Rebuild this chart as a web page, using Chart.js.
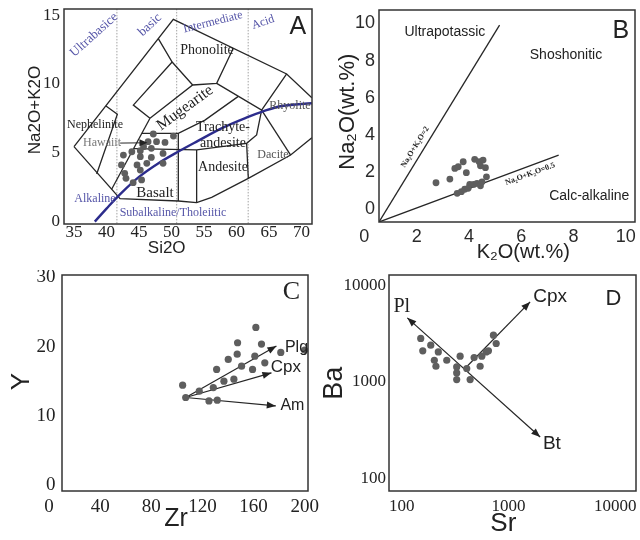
<!DOCTYPE html>
<html><head><meta charset="utf-8">
<script src="https://cdn.jsdelivr.net/npm/chart.js@4.4.1/dist/chart.umd.min.js"></script>
<style>
html,body{margin:0;padding:0;background:#fff;}
#wrap{position:relative;width:640px;height:540px;overflow:hidden;}
canvas{position:absolute;}
</style></head><body>
<div id="wrap">
<canvas id="cA" width="320" height="270" style="left:0;top:0"></canvas>
<canvas id="cB" width="320" height="270" style="left:320px;top:0"></canvas>
<canvas id="cC" width="320" height="270" style="left:0;top:270px"></canvas>
<canvas id="cD" width="320" height="270" style="left:320px;top:270px"></canvas>
</div>
<script>
// ---------------- Panel A : TAS ----------------
const aXTicks = [35,40,45,50,55,60,65,70];
const aYTicks = [0,5,10,15];
const aSiO2 = [47.2,50.3,47.7,49.0,46.4,45.7,43.9,45.2,46.9,48.7,42.6,46.9,45.2,42.3,44.7,46.2,48.7,42.8,45.2,43.0,44.1,45.4];
const aAlk  = [6.37,6.22,5.81,5.76,5.81,5.45,5.08,5.16,5.33,4.96,4.84,4.67,4.72,4.12,4.12,4.24,4.24,3.51,3.75,3.15,2.83,3.03];
const aFieldLines = [
  [[35.0,5.45],[50.28,14.70],[67.72,10.73],[71.6,9.0]],
  [[35.0,5.45],[42.08,1.67],[51.05,1.50],[53.87,1.38],[56.18,1.77],[61.82,3.15],[68.33,4.84],[71.6,6.1]],
  [[39.92,8.40],[41.67,7.80],[38.49,3.46]],
  [[47.97,13.3],[50.1,11.6],[53.26,9.93]],
  [[50.1,11.6],[44.13,8.47],[46.69,7.51]],
  [[46.69,7.51],[40.79,2.35]],
  [[46.69,7.51],[53.26,9.93],[56.95,10.05],[59.51,12.6]],
  [[56.95,10.05],[63.87,8.11],[67.72,10.73]],
  [[63.87,8.11],[68.33,4.84]],
  [[45.41,6.42],[51.05,6.42],[55.15,7.38],[60.28,9.1]],
  [[44.18,5.30],[53.87,5.21],[61.56,5.69],[63.10,6.30],[63.87,8.11]],
  [[51.05,6.42],[51.05,1.50]],
  [[53.87,5.21],[53.87,1.38]],
  [[61.56,5.69],[61.82,3.15]]
];
const aDivisions = [41.6, 50.8, 61.8];
const aCurveX = [38.2,40,42,45,48,51,54,58,62,64,67,71.6];
const aCurveY = [0,0.95,1.95,3.25,4.25,5.08,5.85,6.85,7.65,8.0,8.4,8.6];
const aHawArrow = [[42.1,5.71],[46.3,5.73]];

// ---------------- Panel B : K2O vs Na2O ----------------
const bTicks = [0,2,4,6,8,10];
const bK2O  = [2.74,3.27,3.46,3.59,3.78,3.90,4.22,4.39,4.44,4.54,4.63,4.67,3.55,3.71,3.84,4.03,4.18,4.31,4.44,4.50,3.97];
const bNa2O = [1.43,1.63,2.20,2.29,2.56,1.97,2.69,2.56,2.34,2.65,2.24,1.75,0.86,0.95,1.08,1.34,1.34,1.40,1.27,1.48,1.13];
const bRatioLines = [[[0.56,-0.68],[5.17,9.91]], [[0.56,-0.68],[7.43,2.92]]];

// ---------------- Panel C : Zr vs Y ----------------
const cXTicks = [0,40,80,120,160,200];
const cYTicks = [0,10,20,30];
const cZr = [104.5,106.9,117.5,128.5,125.1,131.6,131.1,136.8,144.6,140.2,147.2,147.5,150.6,161.8,166.2,161.0,159.2,168.8,181.3,200.0];
const cY  = [14.45,12.67,13.58,14.11,12.18,12.28,16.72,15.03,15.32,18.16,18.93,20.57,17.20,22.79,20.38,18.64,16.72,17.67,19.18,19.51];
const cOrigin = [106.9,12.67];
const cPlg = [177.9,20.09];
const cCpx = [174.0,16.23];
const cAm  = [177.4,11.46];

// ---------------- Panel D : Sr vs Ba ----------------
const dTicks = [100,1000,10000];
const dSr = [150.6,157.4,187,220,202,209,264,352,327,327,327,406,437,476,542,562,617,648,722,766];
const dBa = [2806,2089,2390,2037,1671,1449,1671,1840,1426,1236,1056,1373,1056,1782,1449,1840,2037,2089,3034,2489];
const dPl = [112.8,4581];
const dBt = [1977,269];
const dCpxFrom = [401,1416];
const dCpxTo = [1592,6700];

// ---------------- helpers ----------------
const SERIF = "'Liberation Serif','DejaVu Serif',serif";
const SANS = "'Liberation Sans','DejaVu Sans',sans-serif";
const PURPLE = '#5656a8';

const decor = {
  id: 'decor',
  afterDatasetsDraw(chart, args, opts) {
    const {ctx, chartArea: ca} = chart;
    const xs = chart.scales.x, ys = chart.scales.y;
    ctx.save();
    ctx.strokeStyle = '#333'; ctx.lineWidth = 1.5;
    ctx.strokeRect(ca.left, ca.top, ca.right - ca.left, ca.bottom - ca.top);
    (opts.arrows || []).forEach(a => {
      const heads = a.both ? [[a.from, a.to], [a.to, a.from]] : [[a.from, a.to]];
      heads.forEach(([p0, p1]) => {
        const x0 = xs.getPixelForValue(p0[0]), y0 = ys.getPixelForValue(p0[1]);
        const x1 = xs.getPixelForValue(p1[0]), y1 = ys.getPixelForValue(p1[1]);
        const ang = Math.atan2(y1 - y0, x1 - x0);
        const L = a.len || 9, W = a.w || 3.5;
        const c = Math.cos(ang), s = Math.sin(ang);
        ctx.beginPath();
        ctx.moveTo(x1, y1);
        ctx.lineTo(x1 - L * c + W * s, y1 - L * s - W * c);
        ctx.lineTo(x1 - L * c - W * s, y1 - L * s + W * c);
        ctx.closePath();
        ctx.fillStyle = '#222'; ctx.fill();
      });
    });
    (opts.texts || []).forEach(t => {
      const px = xs.getPixelForValue(t.x), py = ys.getPixelForValue(t.y);
      ctx.save();
      ctx.translate(px, py);
      ctx.rotate((t.rot || 0) * Math.PI / 180);
      ctx.font = t.font; ctx.fillStyle = t.color || '#222';
      ctx.textAlign = t.align || 'center'; ctx.textBaseline = 'middle';
      ctx.fillText(t.t, 0, 0);
      ctx.restore();
    });
    (opts.titles || []).forEach(t => {
      ctx.save();
      ctx.translate(t.px, t.py);
      ctx.rotate((t.rot || 0) * Math.PI / 180);
      ctx.font = t.font; ctx.fillStyle = t.color || '#222';
      ctx.textAlign = 'center'; ctx.textBaseline = 'middle';
      ctx.fillText(t.t, 0, 0);
      ctx.restore();
    });
    ctx.restore();
  }
};
Chart.register(decor);

function lineDs(pts, extra) {
  return Object.assign({
    type: 'scatter', showLine: true, data: pts.map(([x, y]) => ({x, y})),
    borderColor: '#262626', borderWidth: 1.3, pointRadius: 0, fill: false, tension: 0, order: 2
  }, extra || {});
}
function dotDs(xs, ys, r) {
  return {type: 'scatter', data: xs.map((x, i) => ({x, y: ys[i]})), pointRadius: r,
    pointBackgroundColor: '#5e5e5e', pointBorderWidth: 0, borderWidth: 0, showLine: false, order: 0};
}
function makeOptions(cfg) {
  const a = cfg.area;
  const zero = s => { s.paddingLeft = 0; s.paddingRight = 0; s.paddingTop = 0; s.paddingBottom = 0; };
  const fmt = v => String(v);
  const axis = (type, min, max, ticks, font, pad, color) => ({
    type, min, max,
    grid: {display: false, drawTicks: false},
    border: {display: false},
    ticks: {font, color: color || '#222', padding: pad, autoSkip: false, maxRotation: 0, callback: fmt},
    afterBuildTicks: s => { s.ticks = ticks.map(v => ({value: v})); }
  });
  const x = axis(cfg.xType || 'linear', cfg.xMin, cfg.xMax, cfg.xTicks, cfg.tickFont, cfg.xPad, cfg.tickColor);
  x.afterFit = s => { s.height = 270 - a.b; zero(s); };
  const y = axis(cfg.yType || 'linear', cfg.yMin, cfg.yMax, cfg.yTicks, cfg.tickFont, cfg.yPad, cfg.tickColor);
  y.afterFit = s => { s.width = a.l; zero(s); };
  return {
    responsive: false, animation: false, events: [],
    layout: {padding: {left: 0, top: a.t, right: 320 - a.r, bottom: 0}},
    scales: {x, y},
    plugins: {legend: {display: false}, tooltip: {enabled: false}, decor: cfg.decor}
  };
}

// ---------------- Chart A ----------------
{
  const ds = [dotDs(aSiO2, aAlk, 3.4)];
  aFieldLines.forEach(p => ds.push(lineDs(p)));
  aDivisions.forEach(v => ds.push(lineDs([[v, -1], [v, 16]], {borderColor: '#8a8a8a', borderWidth: 0.8, borderDash: [1.5, 1.5]})));
  ds.push(lineDs(aCurveX.map((x, i) => [x, aCurveY[i]]), {borderColor: '#2c2c8c', borderWidth: 2.4, tension: 0.35, order: 1}));
  ds.push(lineDs(aHawArrow, {borderWidth: 1}));
  const f = (s, w) => (w || '') + ' ' + s + 'px ' + SERIF;
  new Chart(document.getElementById('cA'), {
    type: 'scatter', data: {datasets: ds},
    options: makeOptions({
      area: {l: 64, t: 9, r: 312, b: 224},
      xMin: 33.46, xMax: 71.62, yMin: -0.17, yMax: 15.45,
      xTicks: aXTicks, yTicks: aYTicks, tickFont: {family: SERIF, size: 17}, xPad: -2, yPad: 4,
      decor: {
        arrows: [{from: aHawArrow[0], to: aHawArrow[1], len: 8, w: 3.5}],
        texts: [
          {t: 'Ultrabasice', x: 38.08, y: 13.56, rot: -42, font: f(13), color: PURPLE},
          {t: 'basic', x: 46.69, y: 14.29, rot: -43, font: f(13), color: PURPLE},
          {t: 'Intermediate', x: 56.38, y: 14.5, rot: -14, font: f(12), color: PURPLE},
          {t: 'Acid', x: 64.08, y: 14.48, rot: -18, font: f(12), color: PURPLE},
          {t: 'A', x: 69.46, y: 14.14, font: '25px ' + SANS},
          {t: 'Phonolite', x: 55.46, y: 12.47, font: f(14)},
          {t: 'Mugearite', x: 52.08, y: 8.26, rot: -36, font: f(16)},
          {t: 'Rhyolite', x: 68.23, y: 8.40, font: f(12), color: '#555'},
          {t: 'Nephelinite', x: 38.23, y: 7.02, font: f(12)},
          {t: 'Hawaiit', x: 39.31, y: 5.71, font: f(12), color: '#777'},
          {t: 'Trachyte-', x: 57.92, y: 6.88, font: f(14)},
          {t: 'andesite', x: 57.92, y: 5.71, font: f(14)},
          {t: 'Andesite', x: 57.92, y: 3.97, font: f(14)},
          {t: 'Dacite', x: 65.62, y: 4.84, font: f(12), color: '#555'},
          {t: 'Basalt', x: 47.46, y: 2.08, font: f(15)},
          {t: 'Alkaline', x: 38.23, y: 1.65, font: f(12), color: PURPLE},
          {t: 'Subalkaline/Tholeiitic', x: 50.23, y: 0.63, font: f(12), color: PURPLE}
        ],
        titles: [
          {t: 'Na2O+K2O', px: 35, py: 110, rot: -90, font: '17px ' + SANS},
          {t: 'Si2O', px: 166.7, py: 248, font: '17px ' + SANS}
        ]
      }
    })
  });
}

// ---------------- Chart B ----------------
{
  const ds = [dotDs(bK2O, bNa2O, 3.4)];
  bRatioLines.forEach(p => ds.push(lineDs(p, {borderWidth: 1.3})));
  new Chart(document.getElementById('cB'), {
    type: 'scatter', data: {datasets: ds},
    options: makeOptions({
      area: {l: 59, t: 10, r: 315, b: 222},
      xMin: 0.56, xMax: 10.35, yMin: -0.68, yMax: 10.72,
      xTicks: bTicks, yTicks: bTicks, tickFont: {family: SANS, size: 18}, tickColor: '#2a2a2a', xPad: 4, yPad: 4,
      decor: {
        texts: [
          {t: 'Ultrapotassic', x: 3.08, y: 9.53, font: '14px ' + SANS},
          {t: 'Shoshonitic', x: 7.71, y: 8.30, font: '14px ' + SANS},
          {t: 'Calc-alkaline', x: 8.60, y: 0.72, font: '14px ' + SANS},
          {t: 'B', x: 9.81, y: 9.60, font: '25px ' + SANS},
          {t: 'Na\u2082O+K\u2082O=2', x: 1.94, y: 3.35, rot: -58.4, font: 'bold 8px ' + SERIF},
          {t: 'Na\u2082O+K\u2082O=0.5', x: 6.34, y: 1.90, rot: -20.4, font: 'bold 8px ' + SERIF}
        ],
        titles: [
          {t: 'Na\u2082O(wt.%)', px: 28.3, py: 111.7, rot: -90, font: '22px ' + SANS},
          {t: 'K\u2082O(wt.%)', px: 203.3, py: 252, font: '20px ' + SANS}
        ]
      }
    })
  });
}

// ---------------- Chart C ----------------
{
  const ds = [dotDs(cZr, cY, 3.6)];
  [cPlg, cCpx, cAm].forEach(e => ds.push(lineDs([cOrigin, e], {borderWidth: 1.2})));
  new Chart(document.getElementById('cC'), {
    type: 'scatter', data: {datasets: ds},
    options: makeOptions({
      area: {l: 62, t: 5, r: 308, b: 221},
      xMin: 10.1, xMax: 202.6, yMin: -0.82, yMax: 30.35,
      xTicks: cXTicks, yTicks: cYTicks, tickFont: {family: SERIF, size: 19}, xPad: 4.6, yPad: 6.5,
      decor: {
        arrows: [{from: cOrigin, to: cPlg}, {from: cOrigin, to: cCpx}, {from: cOrigin, to: cAm}],
        texts: [
          {t: 'Plg', x: 193.6, y: 19.9, font: '16px ' + SANS},
          {t: 'Cpx', x: 185.2, y: 17.0, font: '17px ' + SANS},
          {t: 'Am', x: 190.4, y: 11.5, font: '16px ' + SANS},
          {t: 'C', x: 189.7, y: 27.9, font: '26px ' + SERIF}
        ],
        titles: [
          {t: 'Y', px: 21.7, py: 111.7, rot: -90, font: '26px ' + SANS},
          {t: 'Zr', px: 176, py: 249, font: '25px ' + SANS}
        ]
      }
    })
  });
}

// ---------------- Chart D ----------------
{
  const ds = [dotDs(dSr, dBa, 3.6)];
  ds.push(lineDs([dPl, dBt], {borderWidth: 1.2}));
  ds.push(lineDs([dCpxFrom, dCpxTo], {borderWidth: 1.2}));
  new Chart(document.getElementById('cD'), {
    type: 'scatter', data: {datasets: ds},
    options: makeOptions({
      area: {l: 69, t: 5, r: 316, b: 221},
      xType: 'logarithmic', yType: 'logarithmic',
      xMin: 76, xMax: 15600, yMin: 74.5, yMax: 12700,
      xTicks: dTicks, yTicks: dTicks, tickFont: {family: SERIF, size: 17}, xPad: 5, yPad: 3,
      decor: {
        arrows: [{from: dPl, to: dBt, both: true}, {from: dCpxFrom, to: dCpxTo}],
        texts: [
          {t: 'Pl', x: 100, y: 5957, font: '20px ' + SERIF},
          {t: 'Cpx', x: 2455, y: 7550, font: '19px ' + SANS},
          {t: 'Bt', x: 2547, y: 230, font: '19px ' + SANS},
          {t: 'D', x: 9616, y: 7262, font: '22px ' + SANS}
        ],
        titles: [
          {t: 'Ba', px: 15, py: 113.3, rot: -90, font: '27px ' + SANS},
          {t: 'Sr', px: 183.3, py: 254, font: '26px ' + SANS}
        ]
      }
    })
  });
}
</script>
</body></html>
